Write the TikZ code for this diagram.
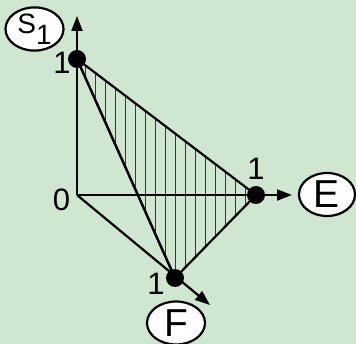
\documentclass[tikz,border=0pt]{standalone}
\usepackage{fontspec}
\setmainfont{Liberation Sans}
\usetikzlibrary{arrows.meta,shapes.geometric}
\definecolor{bg}{RGB}{207,230,208}
\definecolor{hatch}{RGB}{50,60,50}
\begin{document}
\begin{tikzpicture}[x=1pt,y=-1pt,
 edge/.style={line width=2.2pt, black},
 axis/.style={line width=2.2pt, black, -{Triangle[length=15pt,width=11pt]}},
 lab/.style={ellipse, draw, line width=2.2pt, fill=white, inner sep=0pt, minimum width=56pt, minimum height=43pt, font=\fontsize{39}{39}\selectfont},
 num/.style={font=\fontsize{31}{31}\selectfont, inner sep=0pt},
 dot/.style={circle, fill=black, minimum size=18pt, inner sep=0pt}]
\fill[bg] (0,0) rectangle (356,344);
\useasboundingbox (0,0) rectangle (356,344);
\coordinate (O) at (77,195);
\coordinate (A) at (77,59);
\coordinate (B) at (256,195);
\coordinate (C) at (175,278);
\coordinate (Atip) at (77,16);
\coordinate (Btip) at (292,195);
\coordinate (Ctip) at (210,305);
% hatching
\begin{scope}
\clip (A) -- (B) -- (C) -- cycle;
\foreach \x in {85,95,...,255} \draw[hatch, line width=0.9pt] (\x,40) -- (\x,300);
\end{scope}
% axes
\draw[axis] (O) -- (Atip);
\draw[axis] (O) -- (Btip);
\draw[axis] (O) -- (Ctip);
% triangle edges
\draw[edge] (A) -- (B) -- (C) -- cycle;
\draw[edge] (A) -- (C);
% dots
\node[dot] (dA) at (A) {};
\node[dot] (dB) at (B) {};
\node[dot] (dC) at (C) {};
% numbers
\node[num] (n1) at (62,63) {1};
\node[num] (n0) at (61.5,200) {0};
\node[num] (n2) at (256,169) {1};
\node[num] (n3) at (156,284) {1};
% labels
\node[lab, minimum width=58pt, minimum height=41pt, font=\fontsize{28}{28}\selectfont] (S) at (34.5,29) {S\raisebox{-11pt}{1}};
\node[lab] (E) at (327,194.5) {E};
\node[lab, minimum width=58pt] (F) at (176,323) {F};
\end{tikzpicture}
\end{document}
